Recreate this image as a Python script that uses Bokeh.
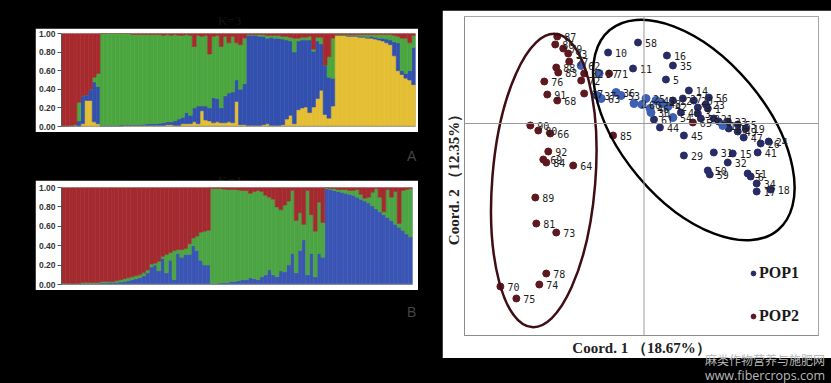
from bokeh.plotting import figure
from bokeh.models import (Range1d, Span, Div, Spacer, Legend, LegendItem, FixedTicker,
                          PrintfTickFormatter, ColumnDataSource, GlobalInlineStyleSheet)
from bokeh.layouts import row, column
from bokeh.embed import file_html
from bokeh.resources import INLINE
from bokeh.core.properties import value

# ---------------- STRUCTURE, upper panel (yellow, blue, green, red; bottom -> top) ----------------
k3_yellow = [0, 0, 0, 0, 0, .03, .28, .28, .05, .03,
             0, 0, 0, 0, 0, 0, .01, .01, .01, .01, .01, .01, .01, .01, .01, .01, .01, .02, .02, .01,
             .01, .03, .03, .03, .05, .03, .17, .07, .06, .04, .05, .04, .04, .05, .04, .27, .02, .02,
             .01, .01, .01, .01, .02, .03, .01, .01, .01, .02, .08, .12, .03, .18, .20, .21, .15, .21,
             .30, .39, .13, .09, .22,
             .98, .98, .98, .97, .97, .97, .96, .96, .95, .95, .94, .93, .92, .90, .88, .76, .60, .56,
             .52, .50, .45]
k3_blue = [0, 0, .01, .01, .06, .30, .06, .12, .43, .40,
           .01, .01, .01, .01, .01, .015, .01, .01, .01, .01, .01, .015, .02, .02, .02, .025, .03, .03,
           .03, .05, .07, .07, .12, .09, .15, .19, .05, .15, .14, .27, .25, .16, .29, .31, .33, .23,
           .38, .44,
           .97, .97, .97, .96, .95, .92, .95, .94, .94, .92, .85, .80, .77, .74, .73, .72, .78, .60,
           .62, .50, .53, .44, .30,
           0, 0, 0, .01, .01, .01, .01, .01, .01, .02, .02, .02, .03, .04, .05, .15, .30, .04, .05,
           .10, .40]
k3_green = [0, 0, 0, .01, .20, 0, 0, 0, .05, .14,
            .99, .99, .99, .99, .99, .985, .98, .98, .97, .97, .97, .965, .96, .96, .96, .955, .94,
            .94, .93, .93, .90, .88, .84, .86, .66, .76, .75, .76, .58, .66, .68, .66, .64, .54, .60,
            .40, .48, .49,
            .01, .01, .01, .02, .02, .03, .02, .03, .03, .03, .04, .04, .15, .03, .03, .03, .04, .02,
            .04, .07, 0, .22, .43,
            .01, .01, .01, .01, .01, .01, .02, .02, .03, .02, .03, .04, .04, .05, .06, .07, .07, .35,
            .38, .30, .13]
k3_red = [1.0, 1.0, .99, .98, .74, .67, .66, .60, .47, .43,
          0, 0, 0, 0, 0, 0, 0, 0, .01, .01, .01, .01, .01, .01, .01, .01, .02, .01, .02, .01, .02,
          .02, .01, .02, .14, .02, .03, .02, .22, .03, .02, .14, .03, .10, .03, .10, .12, .05,
          .01, .01, .01, .01, .01, .02, .02, .02, .02, .03, .03, .04, .05, .05, .04, .04, .03, .17,
          .04, .04, .34, .25, .05,
          .01, .01, .01, .01, .01, .01, .01, .01, .01, .01, .01, .01, .01, .01, .01, .02, .03, .05,
          .05, .10, .02]

# ---------------- STRUCTURE, lower panel (blue, green, red; bottom -> top) ----------------
k4_blue = [0, 0, .005, .005, .01, .01, .01, .01, .01, .01, .015, .015, .02, .02, .02, .025, .03,
           .04, .05, .06, .07, .09, .12, .18, .20, .14, .27, .12, .25, .05, .32, .28, .31, .31, .40,
           .35, .25, .20, .20,
           .01, .01, .015, .02, .02, .03, .03, .04, .05, .05, .07, .06, .05, .08, .10, .15, .10, .08,
           .14, .13, .20, .32, .12, .35, .46, .10, .32, .08, .32, .28,
           .99, .98, .97, .96, .95, .94, .93, .92, .90, .88, .86, .84, .81, .78, .75, .72, .69, .66,
           .62, .59, .56, .52, .49]
k4_green = [.01, .01, .005, .005, 0, .01, .01, .01, .01, .01, .015, .015, .01, .01, .02, .025, .03,
            .03, .03, .03, .03, .03, .03, .03, .02, .10, .02, .19, .08, .30, .04, .08, .06, .11, .08,
            .15, .29, .35, .36,
            .98, .98, .975, .965, .96, .95, .95, .935, .92, .92, .87, .90, .92, .88, .82, .75, .78,
            .72, .63, .69, .66, .65, .54, .39, .16, .87, .40, .47, .53, .36,
            .01, .01, .02, .02, .03, .04, .04, .05, .08, .05, .03, .06, .14, .21, .15, .03, .29, .24,
            .34, .04, .41, .46, .50]
k4_red = [.99, .99, .99, .99, .99, .98, .98, .98, .98, .98, .97, .97, .97, .97, .96, .95, .94, .93,
          .92, .91, .90, .88, .85, .79, .78, .76, .71, .69, .67, .65, .64, .64, .63, .58, .52, .50,
          .46, .45, .44,
          .01, .01, .01, .015, .02, .02, .02, .025, .03, .03, .06, .04, .03, .04, .08, .10, .12, .20,
          .23, .18, .14, .03, .34, .26, .38, .03, .28, .45, .15, .36,
          0, .01, .01, .02, .02, .02, .03, .03, .02, .07, .11, .10, .05, .01, .10, .25, .02, .10,
          .04, .37, .03, .02, .01]

y_ticks = [0, 0.2, 0.4, 0.6, 0.8, 1.0]

# ---------------- PCoA ----------------
pop1_x = [-36, -11, -6, 23, 29, 22, 29, 39, 45, 65, 50, 54, 62, 64, 54, 37, 10, 16, 40, 57, 70, 75,
          84, 85, 94, 94, 102, 100, 117, 125, 114, 40, 70, 89, 84, 64, 66, 104, 107, 113, 113, 127]
pop1_y = [71, 55, 81, 68, 58, 44, 23, 25, 33, 26, 23, 16, 19, 15, 10, 11, 4, -4, -12, 5, 5, 2, 2,
          -5, -1, -8, -5, -14, -20, -18, -29, -32, -29, -30, -39, -47, -51, -50, -53, -60, -68, -66]
pop1_lab = ["10", "11", "58", "16", "35", "5", "22", "27", "14", "56", "20", "9", "23", "1", "3",
            "40", "61", "44", "45", "38", "21", "8", "33", "28", "55", "49", "19", "47", "26", "24",
            "41", "29", "31", "15", "32", "50", "59", "51", "6", "34", "17", "18"]
pop1b_x = [-63, -45, -47, -43, -28, -23, 2, -2, 6, 12, 18, 24, 29, 79, 7, -10]
pop1b_y = [58, 50, 28, 25, 31, 28, 25, 19, 15, 23, 20, 17, 6, -2, 11, 20]
pop1b_lab = ["62", "57", "37", "63", "36", "53", "25", "60", "46", "43", "48", "42", "54", "12",
             "30", "2"]
pop2_x = [-87, -89, -81, -76, -75, -88, -86, -60, -63, -35, -100, -97, -87, -60, -114, -106, -94,
          -96, -101, -98, -71, -31, -109, -108, -88, -98, -105, -144, -128, 49]
pop2_y = [87, 79, 75, 70, 62, 56, 51, 50, 43, 50, 42, 29, 23, 30, -2, -7, -10, -28, -36, -39, -42,
          -12, -74, -100, -109, -150, -161, -163, -175, 1]
pop2_lab = ["87", "86", "79", "93", "77", "88", "83", "82", "72", "71", "76", "91", "68", "67", "90",
            "80", "66", "92", "69", "84", "64", "85", "89", "81", "73", "78", "74", "70", "75", "65"]
groups_x = [-100.5, 50]
groups_y = [-57, -6.5]
groups_w = [295, 262]
groups_h = [103, 145]
groups_angle = [85.35, -49.9]
groups_color = ["#3f0d13", "#000000"]


def structure(width, height, borders, names, arrays, colors):
    n = len(arrays[0])
    data = {"idx": [i + 0.5 for i in range(n)]}
    data.update({nm: arr for nm, arr in zip(names, arrays)})
    src = ColumnDataSource(data)
    left, right, top, bottom = borders
    p = figure(width=width, height=height, x_range=Range1d(0, n), y_range=Range1d(0, 1),
               output_backend="svg", toolbar_location=None, x_axis_location=None,
               min_border_left=left, min_border_right=right, min_border_top=top,
               min_border_bottom=bottom, margin=0)
    p.vbar_stack(names, x="idx", width=1.0, source=src, fill_color=colors, line_color=colors,
                 line_width=0.6)
    p.border_fill_color = "white"
    p.background_fill_color = "white"
    p.outline_line_color = None
    p.xgrid.visible = False
    p.ygrid.visible = False
    ax = p.yaxis[0]
    ax.ticker = FixedTicker(ticks=y_ticks)
    ax.formatter = PrintfTickFormatter(format="%.2f")
    ax.major_label_text_font = "Liberation Sans"
    ax.major_label_text_font_style = "bold"
    ax.major_label_text_font_size = "8.5px"
    ax.major_label_text_color = "#333333"
    ax.major_label_standoff = 2
    ax.major_tick_out = 4
    ax.major_tick_in = 0
    ax.minor_tick_out = 0
    ax.minor_tick_in = 0
    ax.axis_line_color = "#555555"
    ax.major_tick_line_color = "#555555"
    p.add_layout(Span(location=0, dimension="width", line_color="#8a8a8a", line_width=1.5))
    return p


top_fig = structure(383, 104, (24, 3, 5, 6), ["yellow", "blue", "green", "red"],
                    [k3_yellow, k3_blue, k3_green, k3_red],
                    ["#e4be33", "#3350ae", "#4ba63f", "#a72a2e"])
bot_fig = structure(383, 110, (24, 6, 7, 6), ["blue", "green", "red"],
                    [k4_blue, k4_green, k4_red],
                    ["#3a55b4", "#4ca443", "#a32b30"])

# ---------------- PCoA figure ----------------
p = figure(width=389, height=348, x_range=Range1d(-180, 175), y_range=Range1d(-212, 107),
           output_backend="svg", toolbar_location=None, min_border_left=21, min_border_right=13,
           min_border_top=6, min_border_bottom=23, margin=0)
p.border_fill_color = "white"
p.background_fill_color = "white"
p.outline_line_color = "#a8a8a8"
p.xgrid.visible = False
p.ygrid.visible = False
for ax, lab in ((p.xaxis[0], "Coord. 1 （18.67%）"), (p.yaxis[0], "Coord. 2 （12.35%）")):
    ax.ticker = FixedTicker(ticks=[])
    ax.axis_label = lab
    ax.axis_label_text_font = "Liberation Serif"
    ax.axis_label_text_font_style = "bold"
    ax.axis_label_text_font_size = "15px"
    ax.axis_label_text_color = "#222222"
    ax.axis_line_color = "#8c8c8c"
    ax.major_label_standoff = 0
p.xaxis[0].axis_label_standoff = 4
p.yaxis[0].axis_label_standoff = 3
p.add_layout(Span(location=0, dimension="width", line_color="#9a9a9a", line_width=1))
p.add_layout(Span(location=0, dimension="height", line_color="#9a9a9a", line_width=1))

r1 = p.scatter(pop1_x, pop1_y, size=7, color="#272b66")
p.scatter(pop1b_x, pop1b_y, size=8, color="#3d60b5")
r2 = p.scatter(pop2_x, pop2_y, size=7, color="#5e1820")
p.ellipse(x=groups_x, y=groups_y, width=groups_w, height=groups_h, angle=groups_angle,
          angle_units="deg", fill_alpha=0, line_color=groups_color, line_width=2.5)
lab_kw = dict(x_offset=7, text_baseline="middle", text_font=value("DejaVu Sans Mono"),
              text_font_size="10px", text_color="#1e1e1e")
p.text(pop1_x, pop1_y, text=pop1_lab, **lab_kw)
p.text(pop1b_x, pop1b_y, text=pop1b_lab, **lab_kw)
p.text(pop2_x, pop2_y, text=pop2_lab, **lab_kw)

legend = Legend(items=[LegendItem(label="POP1", renderers=[r1]),
                       LegendItem(label="POP2", renderers=[r2])],
                location=(283, 9), border_line_color=None, background_fill_alpha=0,
                label_text_font="Liberation Serif", label_text_font_style="bold",
                label_text_font_size="16px", label_text_color="#1a1a1a", glyph_width=12,
                glyph_height=20, spacing=23, padding=0, margin=0, label_standoff=0)
p.add_layout(legend, "center")


def label_div(html, w, h):
    return Div(text=html, width=w, height=h, margin=0)


k3_div = label_div("<div style=\"position:relative;left:218px;top:12px;color:#161616;"
                   "font-family:'Liberation Serif';font-size:13px;\">K=3</div>", 442, 28)
a_div = label_div("<div style=\"position:relative;left:407px;top:14px;color:#444444;"
                  "font-family:'Liberation Sans';font-size:14px;\">A</div>"
                  "<div style=\"position:relative;left:218px;top:20px;color:#161616;"
                  "font-family:'Liberation Serif';font-size:13px;\">K=4</div>", 442, 48)
b_div = label_div("<div style=\"position:relative;left:407px;top:12px;color:#444444;"
                  "font-family:'Liberation Sans';font-size:14px;\">B</div>", 442, 93)
wm_div = label_div("<div style=\"position:relative;left:263px;top:-6px;color:#b8b8b8;"
                   "font-family:'Noto Sans CJK SC';font-size:12px;line-height:15px;\">"
                   "麻类作物营养与施肥网<br>"
                   "<span style=\"font-family:'Open Sans';font-size:12.5px;\">www.fibercrops.com</span>"
                   "</div>", 389, 25)

left = column(
    k3_div,
    row(Spacer(width=35, height=104, margin=0), top_fig, Spacer(width=24, height=104, margin=0)),
    a_div,
    row(Spacer(width=35, height=110, margin=0), bot_fig, Spacer(width=24, height=110, margin=0)),
    b_div,
)
right = column(Spacer(width=389, height=10, margin=0), p, wm_div)
layout = row(left, right)
layout.stylesheets = [GlobalInlineStyleSheet(css="html, body { background-color: #000000; }")]

open("out.html", "w").write(file_html(layout, INLINE))
